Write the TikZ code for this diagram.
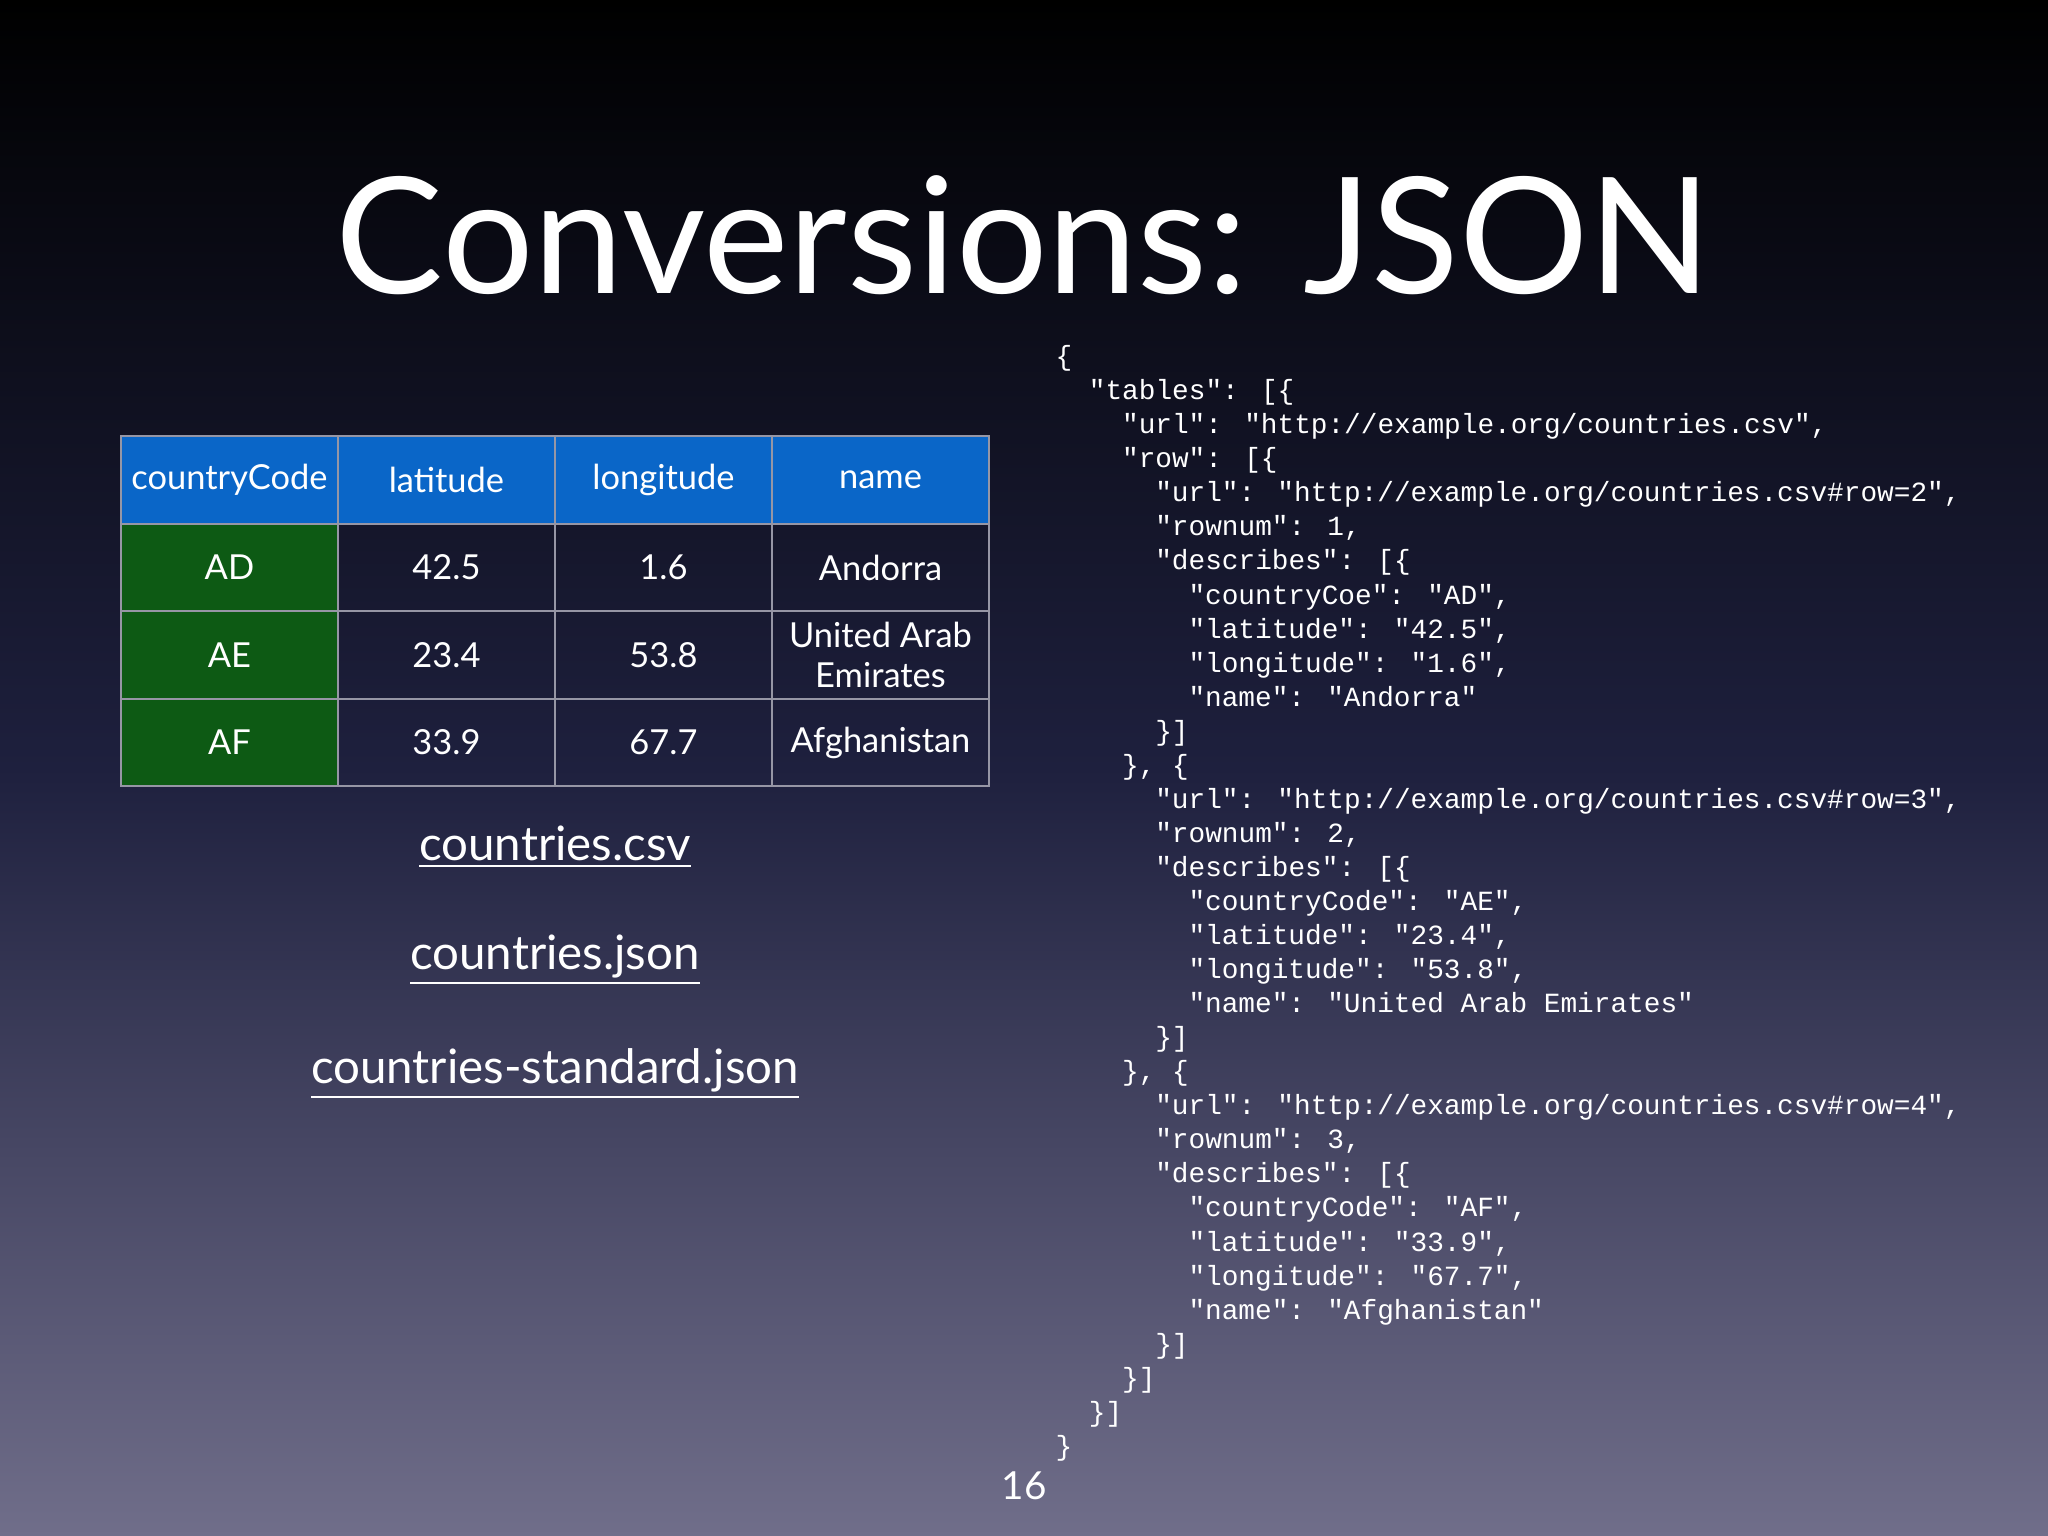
\documentclass[tikz,border=0pt]{standalone}
\usepackage{fontspec}
\setmainfont{Lato}
\newfontfamily\mono{Liberation Mono}
\definecolor{hdrblue}{RGB}{10,102,200}
\definecolor{cgreen}{RGB}{13,90,20}
\definecolor{gridc}{RGB}{150,150,165}
\tikzset{
 cell/.style={draw=gridc,line width=0.6pt,minimum width=2.17cm,minimum height=0.875cm,text=white,font=\fontsize{9.8}{11.5}\selectfont,align=center,inner sep=0pt},
 jl/.style={anchor=base west,text=white,font=\mono\fontsize{7.9}{9}\selectfont,inner sep=0pt},
 lnk/.style={text=white,font=\fontsize{13.5}{16}\selectfont}
}
\newcommand\J[3]{\node[jl] (j#2) at ({10.55+#1*0.332},{-3.657-0.3405*#2}) {#3};}
\begin{document}
\begin{tikzpicture}
\shade[top color=black,bottom color={rgb,255:red,112;green,110;blue,138},middle color={rgb,255:red,30;green,32;blue,62}] (0,0) rectangle (20.48,-15.36);
\useasboundingbox (0,0) rectangle (20.48,-15.36);
\node[text=white,font=\fontsize{46}{54}\selectfont] (title) at (10.24,-2.35) {Conversions: JSON};
% table
\foreach \t [count=\i from 0] in {countryCode,latitude,longitude,name}
  \node[cell,fill=hdrblue] (h\i) at ({1.21+2.17*\i+1.085},-4.8) {\t};
\node[cell,fill=cgreen] (a0) at (2.295,-5.675) {AD};
\node[cell] (a1) at (4.465,-5.675) {42.5};
\node[cell] (a2) at (6.635,-5.675) {1.6};
\node[cell] (a3) at (8.805,-5.675) {Andorra};
\node[cell,fill=cgreen] (b0) at (2.295,-6.55) {AE};
\node[cell] (b1) at (4.465,-6.55) {23.4};
\node[cell] (b2) at (6.635,-6.55) {53.8};
\node[cell] (b3) at (8.805,-6.55) {United Arab\\Emirates};
\node[cell,fill=cgreen] (c0) at (2.295,-7.425) {AF};
\node[cell] (c1) at (4.465,-7.425) {33.9};
\node[cell] (c2) at (6.635,-7.425) {67.7};
\node[cell] (c3) at (8.805,-7.425) {Afghanistan};
\node[lnk] (l1) at (5.55,-8.47) {\underline{countries.csv}};
\node[lnk] (l2) at (5.55,-9.6) {\underline{countries.json}};
\node[lnk] (l3) at (5.55,-10.74) {\underline{countries-standard.json}};
\node[text=white,font=\fontsize{11}{13}\selectfont] (pg) at (10.24,-14.86) {16};
% json
\J{0}{0}{\{}
\J{1}{1}{"tables": [\{}
\J{2}{2}{"url": "http://example.org/countries.csv",}
\J{2}{3}{"row": [\{}
\J{3}{4}{"url": "http://example.org/countries.csv\#row=2",}
\J{3}{5}{"rownum": 1,}
\J{3}{6}{"describes": [\{}
\J{4}{7}{"countryCoe": "AD",}
\J{4}{8}{"latitude": "42.5",}
\J{4}{9}{"longitude": "1.6",}
\J{4}{10}{"name": "Andorra"}
\J{3}{11}{\}]}
\J{2}{12}{\}, \{}
\J{3}{13}{"url": "http://example.org/countries.csv\#row=3",}
\J{3}{14}{"rownum": 2,}
\J{3}{15}{"describes": [\{}
\J{4}{16}{"countryCode": "AE",}
\J{4}{17}{"latitude": "23.4",}
\J{4}{18}{"longitude": "53.8",}
\J{4}{19}{"name": "United Arab Emirates"}
\J{3}{20}{\}]}
\J{2}{21}{\}, \{}
\J{3}{22}{"url": "http://example.org/countries.csv\#row=4",}
\J{3}{23}{"rownum": 3,}
\J{3}{24}{"describes": [\{}
\J{4}{25}{"countryCode": "AF",}
\J{4}{26}{"latitude": "33.9",}
\J{4}{27}{"longitude": "67.7",}
\J{4}{28}{"name": "Afghanistan"}
\J{3}{29}{\}]}
\J{2}{30}{\}]}
\J{1}{31}{\}]}
\J{0}{32}{\}}
\end{tikzpicture}
\end{document}
